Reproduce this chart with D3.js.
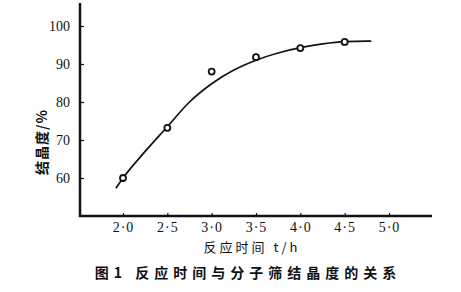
<!DOCTYPE html>
<html>
<head>
<meta charset="utf-8">
<script src="https://cdn.jsdelivr.net/npm/d3@7"></script>
<style>
	body { margin: 0; background: #fff; }
	svg text { fill: #111; }
</style>
</head>
<body>
<div id="chart"></div>
<script>
// measured points
var times = [2.0, 2.5, 3.0, 3.5, 4.0, 4.5];
var crystallinity = [60, 73.2, 88, 91.8, 94.2, 95.8];

// hand drawn fitted curve
var curveTimes = [1.92, 2.0, 2.25, 2.5, 2.75, 3.0, 3.25, 3.5, 3.75, 4.0, 4.25, 4.5, 4.75, 4.8];
var curveValues = [57.3, 60, 67, 73.5, 80, 84.8, 88.4, 91, 92.9, 94.3, 95.3, 95.9, 96.0, 96.0];

var xTicks = [2.0, 2.5, 3.0, 3.5, 4.0, 4.5, 5.0];
var yTicks = [60, 70, 80, 90, 100];

var width = 461, height = 292;
var svg = d3.select("#chart").append("svg")
	.attr("width", width)
	.attr("height", height);

var x = d3.scaleLinear().domain([2.0, 5.0]).range([123, 389]);
var y = d3.scaleLinear().domain([50, 100]).range([216, 26]);

var serif = "'Liberation Serif', 'DejaVu Serif', serif";
var cjk = "'Noto Sans CJK SC', sans-serif";

// axes lines
svg.append("line")
	.attr("x1", 80).attr("x2", 80)
	.attr("y1", 3).attr("y2", 217)
	.style("stroke", "#111").style("stroke-width", 2.5);
svg.append("line")
	.attr("x1", 79).attr("x2", 432)
	.attr("y1", 216).attr("y2", 216)
	.style("stroke", "#111").style("stroke-width", 2.5);

// y ticks
var yAxis = d3.axisLeft(y).tickValues(yTicks).tickSize(-4).tickPadding(10)
	.tickFormat(d3.format("d"));
var gy = svg.append("g").attr("transform", "translate(80,0)").call(yAxis);
gy.select(".domain").remove();
gy.selectAll("line").style("stroke", "#111").style("stroke-width", 1.2);
gy.selectAll("text").style("font-family", serif).style("font-size", "14px");

// x ticks
var xAxis = d3.axisBottom(x).tickValues(xTicks).tickSize(-3).tickPadding(6)
	.tickFormat(function(d){ return d3.format(".1f")(d).replace(".", "·"); });
var gx = svg.append("g").attr("transform", "translate(0,216)").call(xAxis);
gx.select(".domain").remove();
gx.selectAll("line").style("stroke", "#111").style("stroke-width", 1.2);
gx.selectAll("text").style("font-family", serif).style("font-size", "14px")
	.attr("letter-spacing", "1px");

// curve
var line = d3.line()
	.x(function(d){ return x(d[0]); })
	.y(function(d){ return y(d[1]); })
	.curve(d3.curveMonotoneX);
svg.append("path")
	.datum(d3.zip(curveTimes, curveValues))
	.attr("d", line)
	.style("fill", "none")
	.style("stroke", "#111")
	.style("stroke-width", 1.7);

// points
svg.selectAll("circle.pt")
	.data(d3.zip(times, crystallinity))
	.enter().append("circle")
	.attr("class", "pt")
	.attr("cx", function(d){ return x(d[0]); })
	.attr("cy", function(d){ return y(d[1]); })
	.attr("r", 3)
	.style("fill", "#fff")
	.style("stroke", "#111")
	.style("stroke-width", 1.8);

// axis titles
svg.append("text")
	.attr("transform", "translate(47,142) rotate(-90)")
	.attr("text-anchor", "middle")
	.style("font-family", cjk).style("font-size", "14px").style("font-weight", "bold")
	.attr("letter-spacing", "1px")
	.text("结晶度/%");

svg.append("text")
	.attr("x", 252).attr("y", 252)
	.attr("text-anchor", "middle")
	.style("font-family", cjk).style("font-size", "13px")
	.attr("letter-spacing", "3px")
	.text("反应时间 t/h");

svg.append("text")
	.attr("x", 248).attr("y", 278)
	.attr("text-anchor", "middle")
	.style("font-family", cjk).style("font-size", "14px").style("font-weight", "bold")
	.attr("letter-spacing", "5px")
	.text("图1  反应时间与分子筛结晶度的关系");
</script>
</body>
</html>
